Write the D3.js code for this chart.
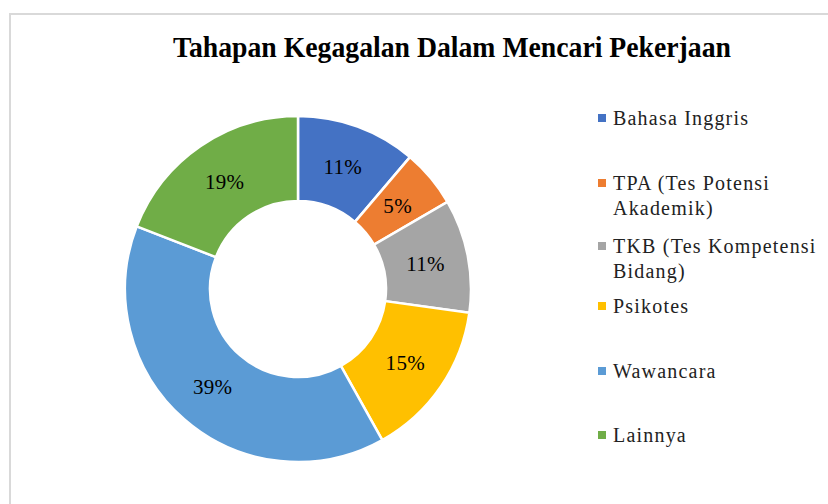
<!DOCTYPE html>
<html>
<head>
<meta charset="utf-8">
<script src="https://cdnjs.cloudflare.com/ajax/libs/d3/7.8.5/d3.min.js"></script>
<style>
  body { margin: 0; background: #fff; }
</style>
</head>
<body>
<script>
var categories = ["Bahasa Inggris", "TPA (Tes Potensi Akademik)", "TKB (Tes Kompetensi Bidang)", "Psikotes", "Wawancara", "Lainnya"];
var legendLines = [["Bahasa Inggris"], ["TPA (Tes Potensi", "Akademik)"], ["TKB (Tes Kompetensi", "Bidang)"], ["Psikotes"], ["Wawancara"], ["Lainnya"]];
var values = [11.2, 5.4, 10.6, 14.7, 39.0, 19.1];
var colors = ["#4472C4", "#ED7D31", "#A5A5A5", "#FFC000", "#5B9BD5", "#70AD47"];
var title = "Tahapan Kegagalan Dalam Mencari Pekerjaan";

var width = 828, height = 504;
var serif = "Liberation Serif";

var svg = d3.select("body")
            .append("svg")
            .attr("width", width)
            .attr("height", height);

// chart frame
svg.append("rect")
   .attr("x", 10).attr("y", 14)
   .attr("width", 830).attr("height", 520)
   .attr("fill", "#fff")
   .attr("stroke", "#d9d9d9")
   .attr("stroke-width", 2);

svg.append("text")
   .attr("x", 173).attr("y", 57)
   .attr("font-family", serif)
   .attr("font-size", 30)
   .attr("font-weight", "bold")
   .attr("textLength", 558)
   .attr("lengthAdjust", "spacingAndGlyphs")
   .text(title);

var total = d3.sum(values);
var pie = d3.pie().sort(null).value(function(d){ return d; });
var arc = d3.arc().innerRadius(88).outerRadius(173);
var labelArc = d3.arc().innerRadius(130).outerRadius(130);

var g = svg.append("g").attr("transform", "translate(298,289)");

var slices = g.selectAll("g.slice")
              .data(pie(values))
              .enter().append("g")
              .attr("class", "slice");

slices.append("path")
      .attr("d", arc)
      .attr("fill", function(d, i){ return colors[i]; })
      .attr("stroke", "#fff")
      .attr("stroke-width", 2.5);

slices.append("text")
      .attr("transform", function(d){ return "translate(" + labelArc.centroid(d) + ")"; })
      .attr("text-anchor", "middle")
      .attr("dy", "0.35em")
      .attr("font-family", serif)
      .attr("font-size", 21)
      .attr("letter-spacing", 0.3)
      .attr("fill", "#000")
      .text(function(d){ return Math.round(d.value / total * 100) + "%"; });

// legend
var legendY = [118, 183, 246, 306, 371, 435];
var legend = svg.selectAll("g.legend")
                .data(categories)
                .enter().append("g")
                .attr("class", "legend")
                .attr("transform", function(d, i){ return "translate(598," + legendY[i] + ")"; });

legend.append("rect")
      .attr("x", 0).attr("y", -4)
      .attr("width", 8).attr("height", 8)
      .attr("fill", function(d, i){ return colors[i]; });

legend.each(function(d, i){
  var t = d3.select(this).append("text")
            .attr("x", 15).attr("y", 0)
            .attr("font-family", serif)
            .attr("font-size", 20)
            .attr("letter-spacing", 1.2)
            .attr("fill", "#222");
  legendLines[i].forEach(function(line, j){
    t.append("tspan")
     .attr("x", 15)
     .attr("dy", j == 0 ? "0.35em" : 25)
     .text(line);
  });
});
</script>
</body>
</html>
